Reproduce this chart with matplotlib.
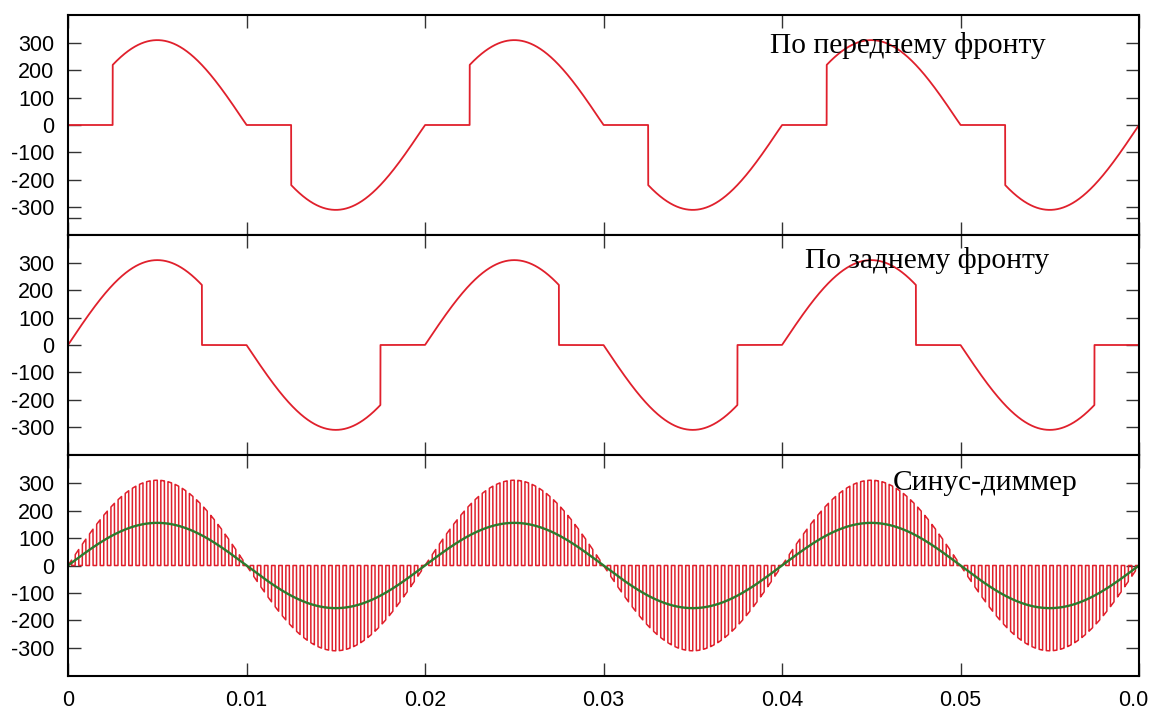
import matplotlib.pyplot as plt
import numpy as np

# parameters
amplitude = 311          # peak voltage, V
freq = 50                # mains frequency, Hz
t_end = 0.06
lead_cut = 0.0025        # leading edge: switch on 2.5 ms after zero crossing
trail_cut = 0.0075       # trailing edge: switch off 7.5 ms after zero crossing
pwm_period = 0.0004      # sine dimmer chopping period
pwm_duty = 0.5

titles = ["По переднему фронту", "По заднему фронту", "Синус-диммер"]
title_pos = [(0.0393, 293), (0.0413, 311), (0.0462, 300)]
yticks = [-300, -200, -100, 0, 100, 200, 300]
xticks = [0, 0.01, 0.02, 0.03, 0.04, 0.05, 0.06]
xticklabels = ["0", "0.01", "0.02", "0.03", "0.04", "0.05", "0.06"]

red = "#e0202c"
green = "#2d7a2d"

plt.rcParams["font.family"] = ["Liberation Sans", "DejaVu Sans"]

t = np.linspace(0, t_end, 120001)
half = 0.5 / freq
phase = t % half
u = amplitude * np.sin(2 * np.pi * freq * t)

leading = np.where(phase >= lead_cut, u, 0.0)
trailing = np.where(phase <= trail_cut, u, 0.0)
pwm = np.where((t % pwm_period) < pwm_period * pwm_duty, u, 0.0)
average = pwm_duty * u

fig = plt.figure(figsize=(11.49, 7.11), dpi=100)
left, right = 68 / 1149, 1139 / 1149
edges = [15, 235, 455, 676]
axes = []
for i in range(3):
    top = 1 - edges[i] / 711
    bot = 1 - edges[i + 1] / 711
    ax = fig.add_axes([left, bot, right - left, top - bot])
    axes.append(ax)

axes[0].plot(t, leading, color=red, lw=1.3)
axes[1].plot(t, trailing, color=red, lw=1.3)
axes[2].plot(t, pwm, color=red, lw=1.1)
axes[2].plot(t, average, color=green, lw=1.7)

for i, ax in enumerate(axes):
    ax.set_xlim(0, t_end)
    ax.set_ylim(-403, 403)
    ax.set_yticks(yticks)
    ax.set_yticklabels([str(v) for v in yticks])
    ax.set_xticks(xticks)
    ax.tick_params(axis="both", direction="in", length=9.5, width=1.0,
                   color="#333333", top=True, right=True, labelsize=15.5)
    ax.tick_params(axis="y", pad=10)
    ax.tick_params(axis="x", pad=10)
    for s in ax.spines.values():
        s.set_linewidth(1.5)
    if i < 2:
        ax.set_xticklabels([])
    else:
        ax.set_xticklabels(xticklabels)
    x0, y0 = title_pos[i]
    ax.text(x0, y0, titles[i], family="Liberation Serif", fontsize=21.2,
            ha="left", va="center")

axes[0].set_yticks([-340], minor=True)
axes[0].tick_params(axis="y", which="minor", direction="in", length=9.5,
                    width=1.0, color="#333333", right=True)

fig.savefig("out.png", dpi=100)
